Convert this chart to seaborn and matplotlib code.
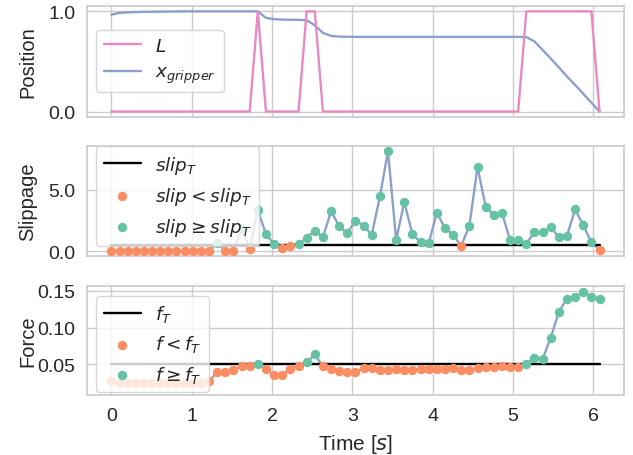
import numpy as np
import pandas as pd
import matplotlib
matplotlib.use("Agg")
import matplotlib.pyplot as plt
import seaborn as sns
from matplotlib.ticker import FormatStrFormatter

# ---------------- data ----------------
time_s = np.linspace(0.0, 6.08, 61)

L_signal = [0, 0, 0, 0, 0, 0, 0, 0, 0, 0,
            0, 0, 0, 0, 0, 0, 0, 0, 1, 0,
            0, 0, 0, 0, 1, 1, 0, 0, 0, 0,
            0, 0, 0, 0, 0, 0, 0, 0, 0, 0,
            0, 0, 0, 0, 0, 0, 0, 0, 0, 0,
            0, 1, 1, 1, 1, 1, 1, 1, 1, 1,
            0]

x_gripper = [0.967, 0.985, 0.990, 0.993, 0.995, 0.996, 0.997, 0.998, 0.999, 1.0,
             1.0, 1.0, 1.0, 1.0, 1.0, 1.0, 1.0, 1.0, 1.0, 0.935,
             0.922, 0.918, 0.916, 0.915, 0.912, 0.860, 0.785, 0.755, 0.748, 0.746,
             0.745, 0.745, 0.745, 0.745, 0.745, 0.745, 0.745, 0.745, 0.745, 0.745,
             0.745, 0.745, 0.745, 0.745, 0.745, 0.745, 0.745, 0.745, 0.745, 0.745,
             0.745, 0.743, 0.700, 0.615, 0.530, 0.440, 0.350, 0.265, 0.177, 0.088,
             0.0]

slip = [0.0, 0.0, 0.0, 0.0, 0.0, 0.0, 0.0, 0.0, 0.0, 0.0,
        0.0, 0.0, 0.0, 0.68, 0.0, 0.0, 1.9, 0.15, 3.35, 1.38,
        0.55, 0.22, 0.38, 0.55, 1.07, 1.67, 1.12, 3.25, 2.02, 1.45,
        2.49, 2.08, 1.31, 4.45, 8.14, 0.90, 3.99, 1.37, 0.71, 0.63,
        3.11, 1.89, 1.31, 0.42, 2.05, 6.86, 3.63, 2.95, 3.14, 0.90,
        0.93, 0.60, 1.53, 1.53, 1.94, 1.12, 1.25, 3.39, 2.10, 0.71,
        0.10]

force = [0.027, 0.025, 0.025, 0.025, 0.025, 0.025, 0.025, 0.025, 0.025, 0.025,
         0.025, 0.025, 0.027, 0.039, 0.039, 0.042, 0.047, 0.047, 0.0505, 0.043,
         0.035, 0.035, 0.044, 0.048, 0.0523, 0.0632, 0.047, 0.043, 0.041, 0.039,
         0.039, 0.0446, 0.0446, 0.0418, 0.0423, 0.0441, 0.0418, 0.0427, 0.0441, 0.0441,
         0.0432, 0.0432, 0.045, 0.0418, 0.0418, 0.0446, 0.0455, 0.0468, 0.0477, 0.0468,
         0.0468, 0.0505, 0.0591, 0.0568, 0.0863, 0.1213, 0.1395, 0.1409, 0.1485, 0.1422,
         0.1395]

slip_threshold = 0.5
force_threshold = 0.05

pos_ticks = [0.0, 1.0]
slip_ticks = [0.0, 5.0]
force_ticks = [0.05, 0.10, 0.15]
time_ticks = [0, 1, 2, 3, 4, 5, 6]

# ---------------- style ----------------
sns.set_theme(style="whitegrid", palette="Set2")
plt.rcParams["font.family"] = ["Liberation Sans", "DejaVu Sans"]
plt.rcParams["mathtext.fontset"] = "dejavusans"
pal = sns.color_palette("Set2")
green, orange, blue, pink = pal[0], pal[1], pal[2], pal[3]

df = pd.DataFrame({"t": time_s, "L": L_signal, "x": x_gripper,
                   "slip": slip, "force": force})
df["slip_T"] = slip_threshold
df["f_T"] = force_threshold

fig = plt.figure(figsize=(6.33, 4.56), dpi=100)
left, width = 0.1374, 0.8483
ax1 = fig.add_axes([left, 0.7423, width, 0.2416])
ax2 = fig.add_axes([left, 0.4364, width, 0.2406], sharex=ax1)
ax3 = fig.add_axes([left, 0.1316, width, 0.2397], sharex=ax1)

LW = 1.7
MS = 46
LEG_FS = 13.3

# ---- Position ----
sns.lineplot(data=df, x="t", y="x", ax=ax1, color=blue, lw=LW, legend=False, zorder=2)
sns.lineplot(data=df, x="t", y="L", ax=ax1, color=pink, lw=LW, legend=False, zorder=3)
h_L = ax1.lines[1]
h_x = ax1.lines[0]
ax1.legend([h_L, h_x], ["$L$", "$x_{gripper}$"], loc="center left",
           fontsize=LEG_FS)
ax1.set_ylabel("Position")
ax1.set_yticks(pos_ticks)
ax1.yaxis.set_major_formatter(FormatStrFormatter("%.1f"))

# ---- Slippage ----
sns.lineplot(data=df, x="t", y="slip", ax=ax2, color=blue, lw=LW, legend=False, zorder=2)
sns.lineplot(data=df, x="t", y="slip_T", ax=ax2, color="black", lw=LW,
             label="$slip_T$", zorder=2.5)
low = df[df["slip"] < slip_threshold]
high = df[df["slip"] >= slip_threshold]
sns.scatterplot(data=low, x="t", y="slip", ax=ax2, color=orange, s=MS,
                linewidth=0, label="$slip < slip_T$", zorder=3)
sns.scatterplot(data=high, x="t", y="slip", ax=ax2, color=green, s=MS,
                linewidth=0, label="$slip \\geq slip_T$", zorder=3)
ax2.legend(loc="center left", bbox_to_anchor=(0.0, 0.547), fontsize=LEG_FS)
ax2.set_ylabel("Slippage")
ax2.set_yticks(slip_ticks)
ax2.yaxis.set_major_formatter(FormatStrFormatter("%.1f"))

# ---- Force ----
sns.lineplot(data=df, x="t", y="force", ax=ax3, color=blue, lw=LW, legend=False, zorder=2)
sns.lineplot(data=df, x="t", y="f_T", ax=ax3, color="black", lw=LW,
             label="$f_T$", zorder=2.5)
flow = df[df["force"] < force_threshold]
fhigh = df[df["force"] >= force_threshold]
sns.scatterplot(data=flow, x="t", y="force", ax=ax3, color=orange, s=MS,
                linewidth=0, label="$f < f_T$", zorder=3)
sns.scatterplot(data=fhigh, x="t", y="force", ax=ax3, color=green, s=MS,
                linewidth=0, label="$f \\geq f_T$", zorder=3)
ax3.legend(loc="center left", bbox_to_anchor=(0.0, 0.467), fontsize=LEG_FS)
ax3.set_ylabel("Force")
ax3.set_yticks(force_ticks)
ax3.set_ylim(0.008, 0.157)
ax3.yaxis.set_major_formatter(FormatStrFormatter("%.2f"))
ax3.set_xlabel("Time [$s$]", fontsize=15)
ax3.set_xticks(time_ticks)

for ax in (ax1, ax2, ax3):
    ax.tick_params(axis="y", length=0, pad=8.5, labelsize=14, colors=".15")
    ax.tick_params(axis="x", length=0, pad=8.5, labelsize=14, colors=".15")
    ax.yaxis.label.set_size(14.5)
    ax.yaxis.set_label_coords(-0.093, 0.5)
    for sp in ax.spines.values():
        sp.set_color(".8")
for ax in (ax1, ax2):
    ax.set_xlabel("")
    plt.setp(ax.get_xticklabels(), visible=False)

ax3.xaxis.set_label_coords(0.5, -0.335)

fig.savefig("out.png", dpi=100)
